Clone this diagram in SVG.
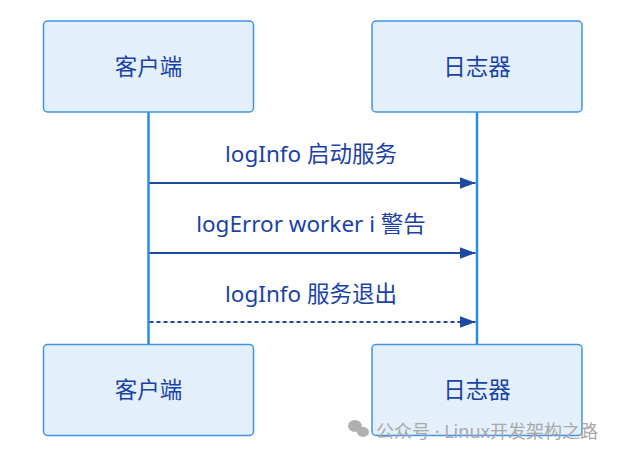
<svg xmlns="http://www.w3.org/2000/svg" width="618" height="456" viewBox="0 0 618 456">
<style>
.box{fill:#e3f0fc;stroke:#3f94e6;stroke-width:1.5}
.lbl{font-family:"Noto Sans","Noto Sans CJK SC",sans-serif;font-size:22.5px;fill:#1a42a6;text-anchor:middle}
.life{stroke:#2b8ae6;stroke-width:2.5}
.msg{stroke:#1c4aa0;stroke-width:2;fill:none}
.wm{font-family:"Noto Sans","Noto Sans CJK SC",sans-serif;font-size:18px;fill:#a8a8a8}
</style>
<defs>
<marker id="ah" markerWidth="16" markerHeight="12" refX="16" refY="6" orient="auto" markerUnits="userSpaceOnUse">
<path d="M0,0 L16,6 L0,12 Z" fill="#1c4aa0"/>
</marker>
</defs>
<g id="lifelines">
<line class="life" x1="148.5" y1="112" x2="148.5" y2="344"/>
<line class="life" x1="477" y1="112" x2="477" y2="344"/>
</g>
<g id="client-top"><rect class="box" x="43.5" y="21" width="210" height="91" rx="4"/><text class="lbl" x="148.5" y="75">客户端</text></g>
<g id="logger-top"><rect class="box" x="372" y="21" width="210" height="91" rx="4"/><text class="lbl" x="477" y="75">日志器</text></g>
<g id="client-bottom"><rect class="box" x="43.5" y="344.5" width="210" height="91" rx="4"/><text class="lbl" x="148.5" y="398">客户端</text></g>
<g id="logger-bottom"><rect class="box" x="372" y="344.5" width="210" height="91" rx="4"/><text class="lbl" x="477" y="398">日志器</text></g>
<g id="connectors">
<line class="msg" x1="149.5" y1="183" x2="475.5" y2="183" marker-end="url(#ah)"/>
<text class="lbl" x="311" y="162">logInfo 启动服务</text>
<line class="msg" x1="149.5" y1="253" x2="475.5" y2="253" marker-end="url(#ah)"/>
<text class="lbl" x="311" y="232">logError worker i 警告</text>
<line class="msg" x1="149.5" y1="322" x2="475.5" y2="322" stroke-dasharray="4,3" marker-end="url(#ah)"/>
<text class="lbl" x="311" y="302">logInfo 服务退出</text>
</g>
<g id="watermark">
<ellipse cx="355" cy="426" rx="7" ry="6" fill="#b0b0b0"/>
<ellipse cx="363" cy="432" rx="6" ry="5" fill="#b0b0b0"/>
<text class="wm" x="376" y="438">公众号 · Linux开发架构之路</text>
</g>
</svg>
